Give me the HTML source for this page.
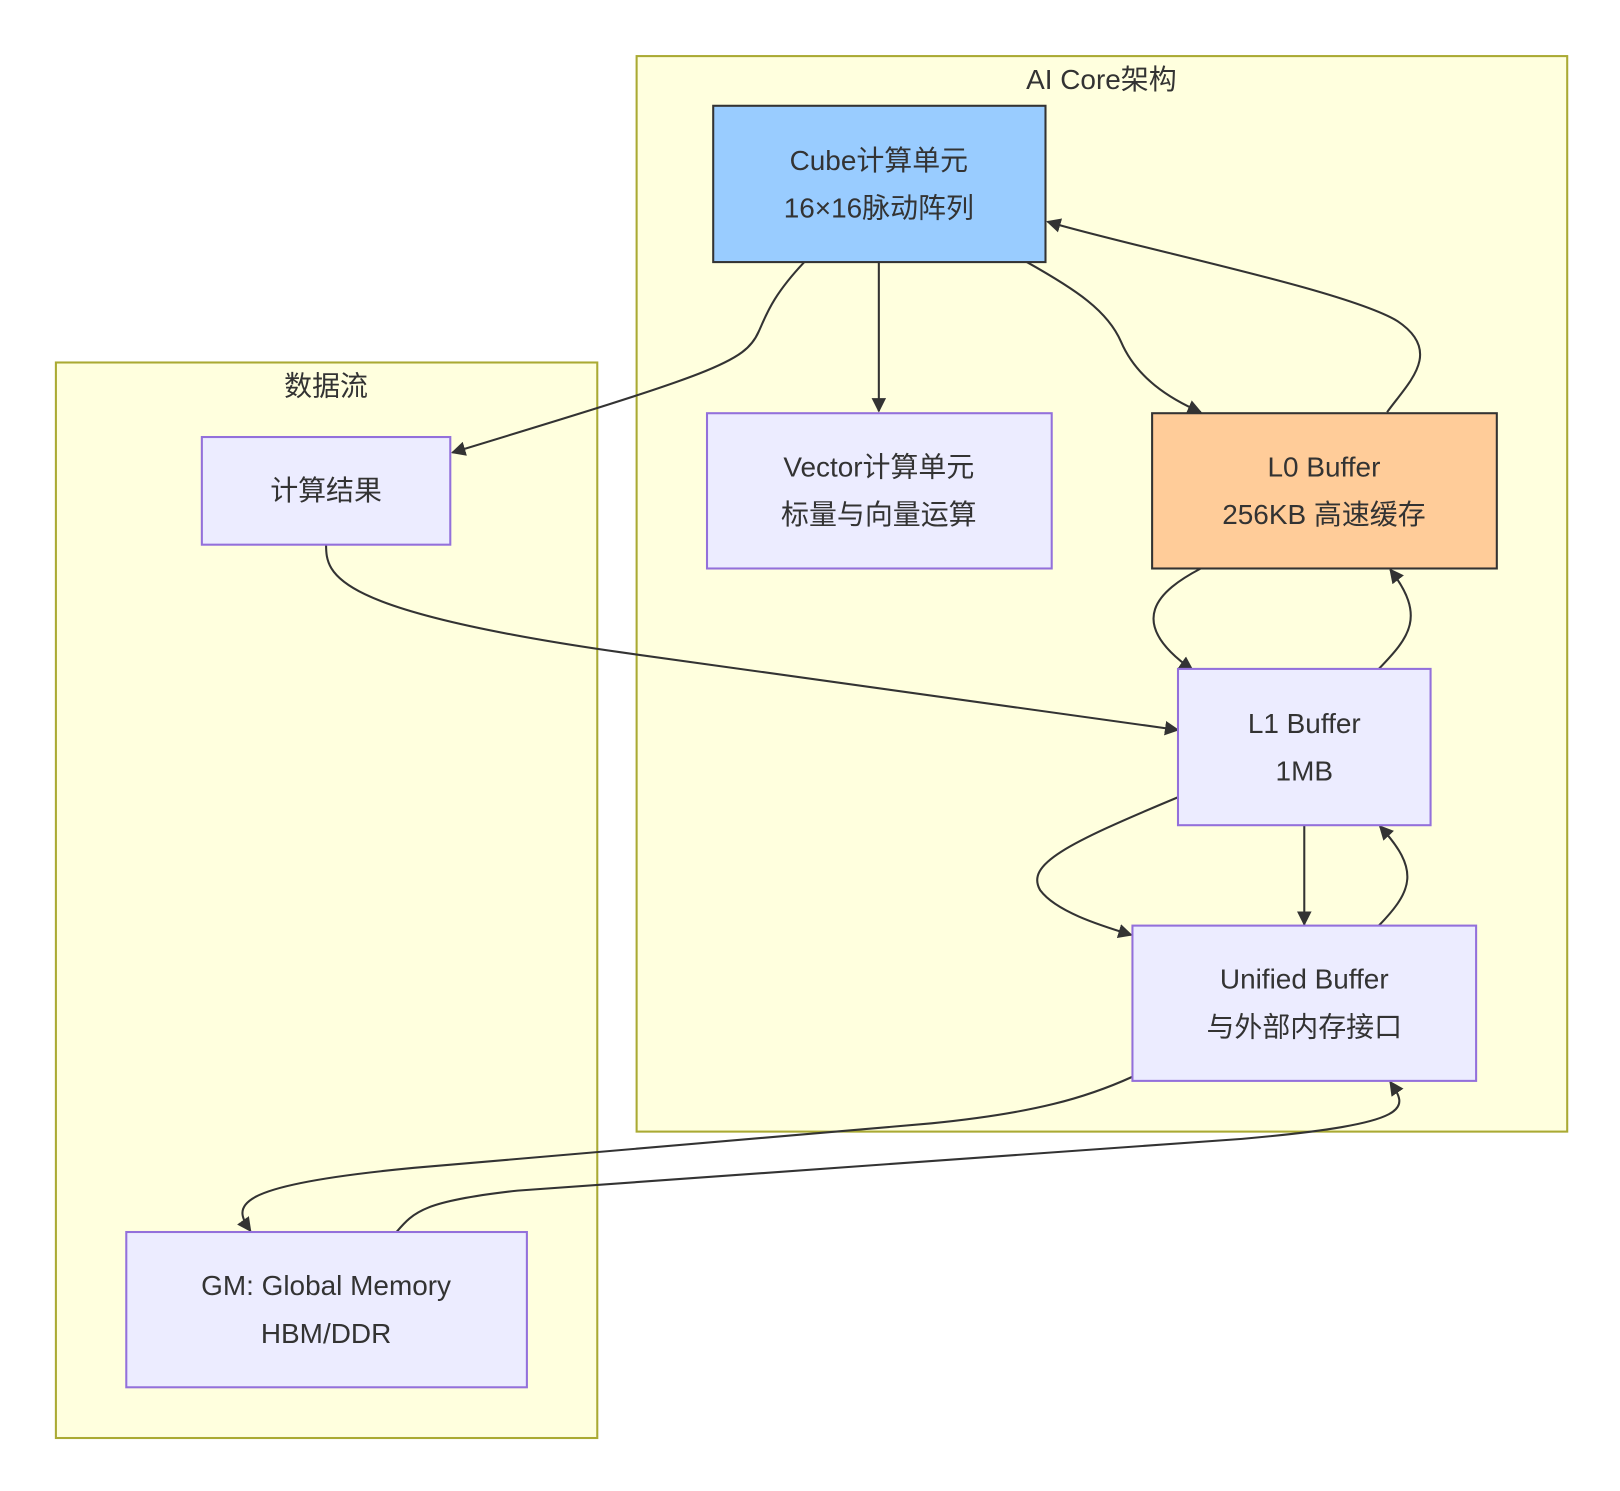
<!DOCTYPE html>
<html><head><meta charset="utf-8"><style>
html,body{margin:0;padding:0;background:#fff;}
svg{display:block;}
text{font-family:"Liberation Sans","Noto Sans CJK SC",sans-serif;font-size:27px;fill:#333;text-anchor:middle;}
</style></head><body>
<svg width="1620" height="1491" viewBox="0 0 1565 1440" xmlns="http://www.w3.org/2000/svg">
<defs><marker id="a" viewBox="0 0 10 10" refX="9" refY="5" markerWidth="8" markerHeight="8" orient="auto-start-reverse" markerUnits="userSpaceOnUse" ><path d="M0,0 L10,5 L0,10 z" fill="#333"/></marker>
<marker id="b" viewBox="0 0 10 10" refX="9" refY="5" markerWidth="14" markerHeight="14" orient="auto" markerUnits="userSpaceOnUse"><path d="M0,0 L10,5 L0,10 z" fill="#333"/></marker></defs>
<rect x="615" y="54" width="899" height="1039" fill="#ffffde" stroke="#aaaa33" stroke-width="2"/>
<text x="1064" y="86">AI Core架构</text>
<rect x="54" y="350" width="523" height="1039" fill="#ffffde" stroke="#aaaa33" stroke-width="2"/>
<text x="315" y="382">数据流</text>
<g fill="none" stroke="#333" stroke-width="2" marker-end="url(#b)">
<path d="M777,253 C745,287 740,305 733,320 C720,350 690,360 437,437"/>
<path d="M849,253 L849,397"/>
<path d="M992,253 C1040,280 1070,300 1083,330 C1098,365 1130,385 1160,398"/>
<path d="M1340,398 C1360,370 1395,340 1350,310 C1300,280 1100,240 1012,214"/>
<path d="M1160,549 C1120,570 1085,600 1152,647"/>
<path d="M1332,646 C1362,615 1378,595 1343,550"/>
<path d="M315,526 C315,555 320,590 600,630 L1138,705"/>
<path d="M1260,797 L1260,893"/>
<path d="M1138,770 C1030,815 990,835 1005,860 C1020,880 1060,893 1093,903"/>
<path d="M1332,894 C1365,860 1372,840 1333,798"/>
<path d="M1094,1040 C1050,1060 1000,1075 900,1085 L400,1128 C220,1145 225,1165 242,1189"/>
<path d="M383,1190 C400,1170 410,1160 500,1150 L1200,1100 C1370,1085 1360,1070 1343,1045"/>
</g>
<rect x="689" y="102" width="321" height="151" fill="#99ccff" stroke="#333" stroke-width="2"/>
<text x="849" y="164">Cube计算单元</text><text x="849" y="210">16×16脉动阵列</text>
<rect x="683" y="399" width="333" height="150" fill="#ececff" stroke="#9370db" stroke-width="2"/>
<text x="849" y="460">Vector计算单元</text><text x="849" y="506">标量与向量运算</text>
<rect x="1113" y="399" width="333" height="150" fill="#ffcc99" stroke="#333" stroke-width="2"/>
<text x="1279" y="460">L0 Buffer</text><text x="1279" y="506">256KB 高速缓存</text>
<rect x="195" y="422" width="240" height="104" fill="#ececff" stroke="#9370db" stroke-width="2"/>
<text x="315" y="483">计算结果</text>
<rect x="1138" y="646" width="244" height="151" fill="#ececff" stroke="#9370db" stroke-width="2"/>
<text x="1260" y="708">L1 Buffer</text><text x="1260" y="754">1MB</text>
<rect x="1094" y="894" width="332" height="150" fill="#ececff" stroke="#9370db" stroke-width="2"/>
<text x="1260" y="955">Unified Buffer</text><text x="1260" y="1001">与外部内存接口</text>
<rect x="122" y="1190" width="387" height="150" fill="#ececff" stroke="#9370db" stroke-width="2"/>
<text x="315" y="1251">GM: Global Memory</text><text x="315" y="1297">HBM/DDR</text>
</svg>
</body></html>
